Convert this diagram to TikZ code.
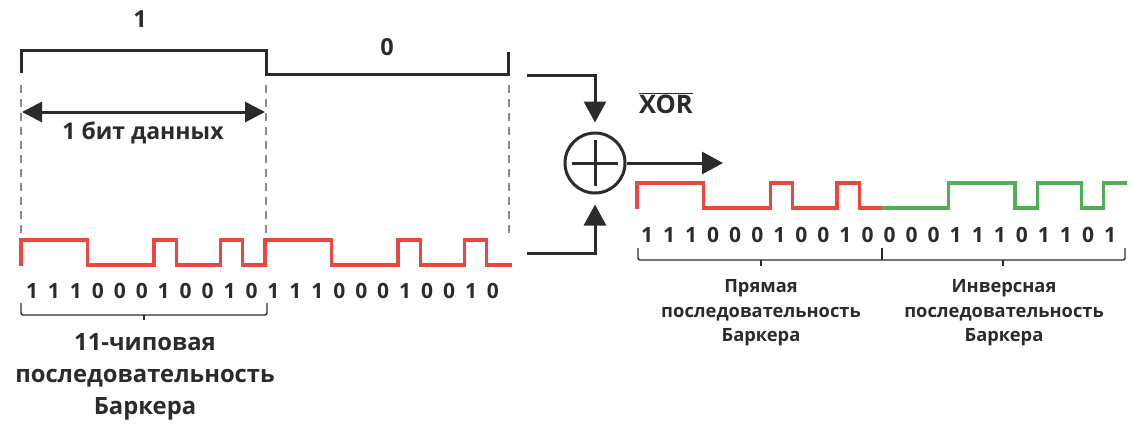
\documentclass[tikz,border=0pt]{standalone}
\usepackage{fontspec}
\setmainfont{Open Sans}
\usetikzlibrary{arrows.meta}
\definecolor{ink}{HTML}{2B2B2B}
\definecolor{chipred}{HTML}{E8483F}
\definecolor{chipgreen}{HTML}{4EB054}
\definecolor{dashgray}{HTML}{8C8C8C}
\tikzset{
  x=1pt, y=-1pt,
  bitline/.style={draw=ink, line width=3pt, line cap=butt, line join=miter},
  guide/.style={draw=dashgray, line width=1.4pt, dash pattern=on 8pt off 6pt},
  wave/.style={line width=3.2pt, line join=miter},
  arrowline/.style={draw=ink, line width=3pt, -{Triangle[length=21pt,width=22pt]}},
  bracket/.style={draw=ink, line width=1.4pt, rounded corners=2pt},
  digit/.style={font=\fontsize{21}{24}\selectfont\bfseries, text=ink, inner sep=0pt},
  caption/.style={font=\fontsize{23.8}{32}\selectfont\bfseries, text=ink, align=center, inner sep=0pt},
  smallcap/.style={font=\fontsize{18.3}{24.5}\selectfont\bfseries, text=ink, align=center, inner sep=0pt},
}
\begin{document}
\begin{tikzpicture}
\useasboundingbox (0,0) rectangle (1134,424);

% data bits 1 and 0
\draw[bitline] (21,73) -- (21,50) -- (266,50) -- (266,74) -- (508,74) -- (508,52);
\node[caption, font=\fontsize{23.5}{24}\selectfont\bfseries] (one) at (140,19) {1};
\node[caption, font=\fontsize{23.5}{24}\selectfont\bfseries] (zero) at (387,47) {0};

% bit boundaries
\draw[guide] (21,85) -- (21,238);
\draw[guide] (266,85) -- (266,238);
\draw[guide] (509,85) -- (509,238);

% one data bit
\coordinate (bl) at (22,112);
\coordinate (br) at (265,112);
\draw[draw=ink, line width=3pt, {Triangle[length=20pt,width=20pt]}-{Triangle[length=20pt,width=20pt]}] (bl) -- (br);
\node[caption, font=\fontsize{23}{32}\selectfont\bfseries] (bitlbl) at (143,133) {1 бит данных};

% spread chips, left
\def\w{22.18}
\def\xa{21}
\draw[wave, chipred] (\xa,266) -- (\xa,240) -- ({\xa+3*\w},240) -- ({\xa+3*\w},265)
  -- ({\xa+6*\w},265) -- ({\xa+6*\w},240) -- ({\xa+7*\w},240) -- ({\xa+7*\w},265)
  -- ({\xa+9*\w},265) -- ({\xa+9*\w},240) -- ({\xa+10*\w},240) -- ({\xa+10*\w},265)
  -- ({\xa+11*\w},265) -- ({\xa+11*\w},240) -- ({\xa+14*\w},240) -- ({\xa+14*\w},265)
  -- ({\xa+17*\w},265) -- ({\xa+17*\w},240) -- ({\xa+18*\w},240) -- ({\xa+18*\w},265)
  -- ({\xa+20*\w},265) -- ({\xa+20*\w},240) -- ({\xa+21*\w},240) -- ({\xa+21*\w},265)
  -- (512,265);
\foreach \b [count=\i from 0] in {1,1,1,0,0,0,1,0,0,1,0,1,1,1,0,0,0,1,0,0,1,0}
  \node[digit] (L\i) at ({32+\i*21.95},291) {\b};

\draw[bracket] (21,303) -- (21,315) -- (267,315) -- (267,303);
\draw[draw=ink, line width=1.4pt] (144,315) -- (144,320);
\node[caption] (barker) at (145,377) {11-чиповая\\последовательность\\Баркера};

% XOR combiner
\node[circle, draw=ink, line width=3pt, minimum size=60pt, inner sep=0pt] (xor) at (595,163) {};
\draw[draw=ink, line width=3pt] ([xshift=-23pt]xor.center) -- ([xshift=23pt]xor.center);
\draw[draw=ink, line width=3pt] ([yshift=-23pt]xor.center) -- ([yshift=23pt]xor.center);
\coordinate (intop) at (527,75);
\coordinate (inbot) at (527,253);
\coordinate (out) at (723,163);
\draw[arrowline] (intop) -| ([yshift=9pt]xor.north);
\draw[arrowline] (inbot) -| ([yshift=-10pt]xor.south);
\draw[arrowline] (xor.east) -- (out);
\node[caption, font=\fontsize{25.5}{30}\selectfont\bfseries] (xorlbl) at (666,103) {$\overline{\hbox{XOR}}$};

% spread chips, right
\def\xb{637}
\def\v{22.23}
\draw[wave, chipred] (\xb,209) -- (\xb,183) -- ({\xb+3*\v},183) -- ({\xb+3*\v},208)
  -- ({\xb+6*\v},208) -- ({\xb+6*\v},183) -- ({\xb+7*\v},183) -- ({\xb+7*\v},208)
  -- ({\xb+9*\v},208) -- ({\xb+9*\v},183) -- ({\xb+10*\v},183) -- ({\xb+10*\v},208)
  -- ({\xb+11*\v},208);
\draw[wave, chipgreen] ({\xb+11*\v},208) -- ({\xb+14*\v},208) -- ({\xb+14*\v},183)
  -- ({\xb+17*\v},183) -- ({\xb+17*\v},208) -- ({\xb+18*\v},208) -- ({\xb+18*\v},183)
  -- ({\xb+20*\v},183) -- ({\xb+20*\v},208) -- ({\xb+21*\v},208) -- ({\xb+21*\v},183)
  -- (1127,183);
\foreach \b [count=\i from 0] in {1,1,1,0,0,0,1,0,0,1,0,0,0,0,1,1,1,0,1,1,0,1}
  \node[digit] (R\i) at ({647+\i*22.05},235) {\b};

\draw[bracket] (638,248) -- (638,260) -- (1125,260) -- (1125,248);
\draw[draw=ink, line width=1.4pt] (882,248) -- (882,260);
\draw[draw=ink, line width=1.4pt] (761,260) -- (761,266);
\draw[draw=ink, line width=1.4pt] (1003,260) -- (1003,266);
\node[smallcap] (direct) at (761,313) {Прямая\\последовательность\\Баркера};
\node[smallcap] (inverse) at (1004,313) {Инверсная\\последовательность\\Баркера};
\end{tikzpicture}
\end{document}
